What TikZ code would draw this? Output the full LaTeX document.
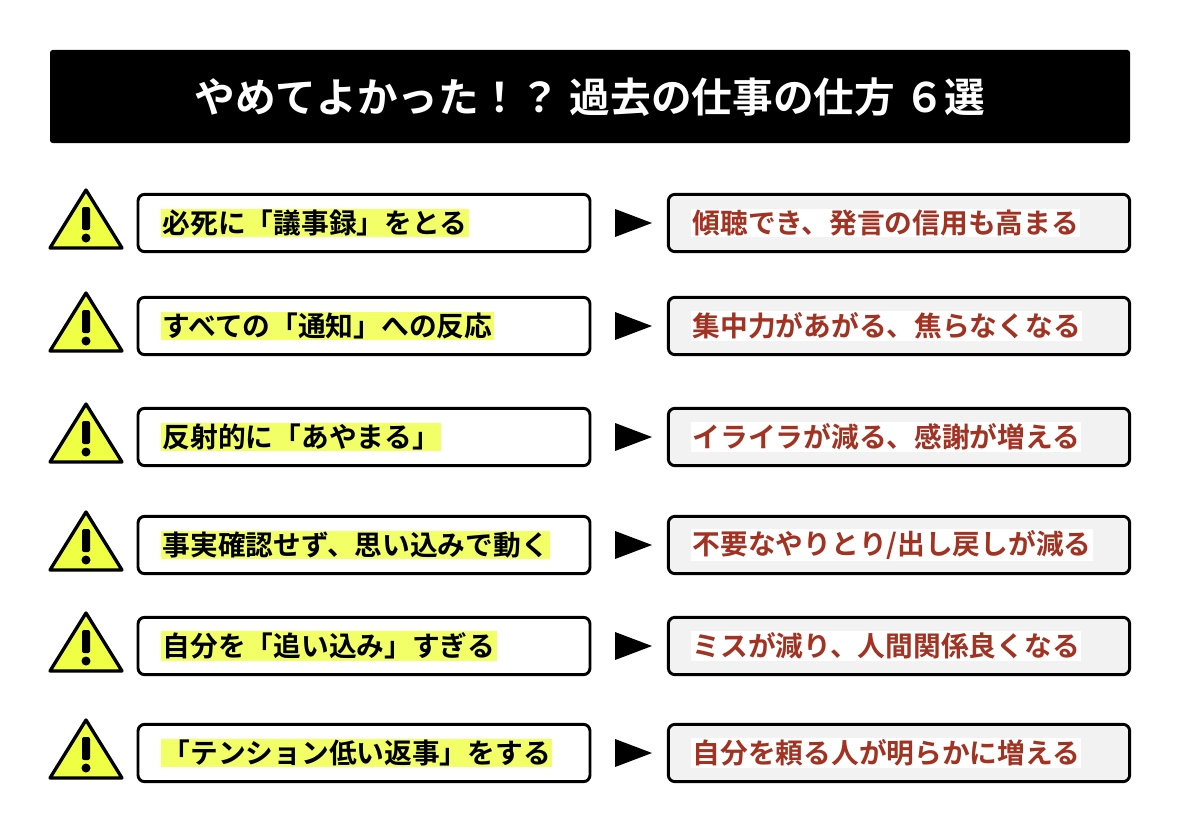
\documentclass[tikz,border=0pt]{standalone}
\usepackage{fontspec}
\setmainfont{Noto Sans CJK JP}[BoldFont={Noto Sans CJK JP Bold}]
\definecolor{hiyellow}{HTML}{F2FF66}
\definecolor{warnyellow}{HTML}{EEFF44}
\definecolor{darkred}{HTML}{A23222}
\definecolor{boxgray}{HTML}{F2F2F2}
\tikzset{
  leftbox/.style={draw, line width=2.2pt, rounded corners=5pt, fill=white, minimum width=339pt, minimum height=43pt},
  rightbox/.style={draw, line width=2.2pt, rounded corners=5pt, fill=boxgray, minimum width=346pt, minimum height=43pt},
  lefttext/.style={fill=hiyellow, inner sep=1pt, font=\fontsize{20.8}{24}\selectfont\bfseries, anchor=west},
  righttext/.style={fill=white, inner sep=1pt, text=darkred, font=\fontsize{20.8}{24}\selectfont\bfseries, anchor=west},
}
\begin{document}
\begin{tikzpicture}[x=0.75pt,y=-0.75pt]
  \useasboundingbox (0,0) rectangle (1180,824);
  \fill[black, rounded corners=2pt] (50,50) rectangle (1130,143);
  \node[text=white, font=\fontsize{30.5}{34}\selectfont\bfseries] (title) at (590,97) {やめてよかった！？\ 過去の仕事の仕方 ６選};

  \foreach \y/\a/\b [count=\i] in {
      223/必死に「議事録」をとる/傾聴でき、発言の信用も高まる,
      326/すべての「通知」への反応/集中力があがる、焦らなくなる,
      437/反射的に「あやまる」\ /イライラが減る、感謝が増える,
      545/事実確認せず、思い込みで動く/不要なやりとり{/}出し戻しが減る,
      646/自分を「追い込み」すぎる/ミスが減り、人間関係良くなる,
      753/「テンション低い返事」をする/自分を頼る人が明らかに増える} {
    % warning sign
    \draw[fill=warnyellow, line width=2.5pt, line join=round] (50,\y+25) -- (122,\y+25) -- (86,\y-33) -- cycle;
    \fill[black, rounded corners=1.5pt] (82,\y-16) rectangle (90,\y+7);
    \fill[black] (86,\y+15) circle (4.5);
    % boxes
    \node[leftbox] (L\i) at (364,\y) {};
    \node[lefttext] (LT\i) at (161,\y) {\a};
    \node[rightbox] (R\i) at (899,\y) {};
    \node[righttext] (RT\i) at (691,\y) {\b};
    \fill[black] (615,\y-14) -- (652,\y) -- (615,\y+14) -- cycle;
  }
\end{tikzpicture}
\end{document}
